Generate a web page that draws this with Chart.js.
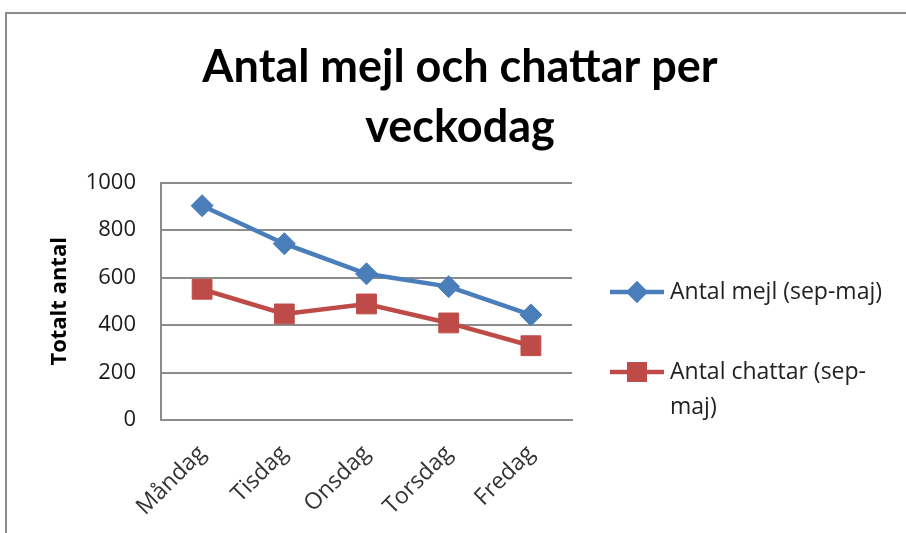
<!DOCTYPE html>
<html>
<head>
<meta charset="utf-8">
<script src="https://cdn.jsdelivr.net/npm/chart.js@4.4.1/dist/chart.umd.min.js"></script>
<style>
  html, body { margin: 0; padding: 0; background: #fff; overflow: hidden; }
  #wrap { position: relative; width: 906px; height: 533px; }
  #frame { position: absolute; left: 5px; top: 12px; width: 1000px; height: 600px;
           border-left: 2px solid #8c8c8c; border-top: 2px solid #8c8c8c; }
  canvas { position: absolute; left: 0; top: 0; }
</style>
</head>
<body>
<div id="wrap">
  <div id="frame"></div>
  <canvas id="myChart" width="906" height="533"></canvas>
</div>
<script>
// data
var days = ["Måndag", "Tisdag", "Onsdag", "Torsdag", "Fredag"];
var mejl = [903, 743, 616, 562, 443];
var chattar = [551, 447, 489, 409, 313];
var yTicks = [0, 200, 400, 600, 800, 1000];

var titleLines = ["Antal mejl och chattar per", "veckodag"];
var yTitle = "Totalt antal";
var seriesNames = ["Antal mejl (sep-maj)", "Antal chattar (sep-maj)"];

// legend drawn by hand so the long label can wrap like in Excel
function wrapText(ctx, text, maxW) {
  var parts = text.match(/[^ \-]+-?| /g);
  var lines = [], cur = "";
  parts.forEach(function (p) {
    var test = cur + p;
    if (ctx.measureText(test.trim()).width > maxW && cur.trim() !== "") {
      lines.push(cur.trim());
      cur = p.trim() ? p : "";
    } else {
      cur = test;
    }
  });
  if (cur.trim()) lines.push(cur.trim());
  return lines;
}

var sideLegend = {
  id: 'sideLegend',
  afterDraw: function (chart) {
    var ctx = chart.ctx;
    var rowY = [292, 372];
    ctx.save();
    ctx.font = '23px "Open Sans"';
    ctx.textBaseline = 'middle';
    ctx.textAlign = 'left';
    chart.data.datasets.forEach(function (ds, i) {
      var y = rowY[i];
      ctx.strokeStyle = ds.borderColor;
      ctx.lineWidth = 4.5;
      ctx.beginPath();
      ctx.moveTo(610, y);
      ctx.lineTo(664, y);
      ctx.stroke();
      ctx.fillStyle = ds.pointBackgroundColor;
      ctx.strokeStyle = ds.pointBackgroundColor;
      Chart.helpers.drawPoint(ctx, {pointStyle: ds.pointStyle, radius: ds.pointStyle === 'rect' ? 11 : 8, borderWidth: 1, rotation: 0}, 637, y);
      ctx.fillStyle = '#222';
      var lines = wrapText(ctx, ds.label, 222);
      lines.forEach(function (ln, k) {
        ctx.fillText(ln, 670, y + k * 35);
      });
    });
    ctx.restore();
  }
};

new Chart(document.getElementById("myChart"), {
  type: 'line',
  data: {
    labels: days,
    datasets: [{
      label: seriesNames[0],
      data: mejl,
      borderColor: '#4a7ebb',
      backgroundColor: '#4a7ebb',
      pointBackgroundColor: '#4a7ebb',
      pointBorderColor: '#4a7ebb',
      pointStyle: 'rectRot',
      pointRadius: 11,
      pointBorderWidth: 1,
      borderWidth: 4.5,
      tension: 0
    }, {
      label: seriesNames[1],
      data: chattar,
      borderColor: '#be4b48',
      backgroundColor: '#be4b48',
      pointBackgroundColor: '#be4b48',
      pointBorderColor: '#be4b48',
      pointStyle: 'rect',
      pointRadius: 14,
      pointBorderWidth: 1,
      borderWidth: 4.5,
      tension: 0
    }]
  },
  options: {
    responsive: false,
    animation: false,
    layout: { padding: { left: 14, right: 0, top: 0, bottom: 0 } },
    plugins: {
      legend: { display: false },
      tooltip: { enabled: false },
      title: {
        display: true,
        text: titleLines,
        color: '#000',
        font: { family: 'Lato', size: 45, weight: 'bold', lineHeight: 1.33 },
        padding: { top: 38, bottom: 25 }
      }
    },
    scales: {
      x: {
        offset: true,
        grid: { display: false, drawTicks: false },
        border: { display: true, color: '#8c8c8c', width: 2 },
        ticks: {
          color: '#333',
          font: { family: 'Open Sans', size: 23 },
          minRotation: 45,
          maxRotation: 45,
          padding: 20
        },
        afterFit: function (scale) { scale.height = 113; }
      },
      y: {
        min: 0,
        max: 1000,
        afterBuildTicks: function (scale) {
          scale.ticks = yTicks.map(function (v) { return { value: v }; });
        },
        grid: { color: '#8c8c8c', lineWidth: 2, drawTicks: false },
        border: { display: true, color: '#8c8c8c', width: 2 },
        ticks: {
          color: '#1a1a1a',
          font: { family: 'Open Sans', size: 22 },
          padding: 25,
          callback: function (v) { return String(v); }
        },
        title: {
          display: true,
          text: yTitle,
          color: '#000',
          font: { family: 'Open Sans', size: 22, weight: 'bold', lineHeight: 1.2 },
          padding: { top: 33, bottom: 0 }
        },
        afterFit: function (scale) { scale.width = 147; }
      },
      // empty right-hand box that keeps room for the legend
      legendSpace: {
        type: 'linear',
        position: 'right',
        display: true,
        grid: { display: false, drawTicks: false },
        border: { display: false },
        ticks: { display: false },
        afterFit: function (scale) { scale.width = 334; }
      }
    }
  },
  plugins: [sideLegend]
});
</script>
</body>
</html>
